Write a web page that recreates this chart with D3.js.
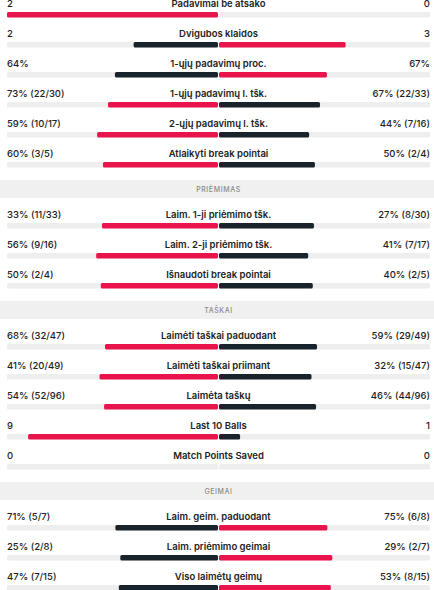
<!DOCTYPE html>
<html>
<head>
<meta charset="utf-8">
<script src="https://cdn.jsdelivr.net/npm/d3@7"></script>
<style>
  body { margin: 0; background: #fff; }
  svg { display: block; font-family: Inter, "Noto Sans", sans-serif; }
</style>
</head>
<body>
<svg id="stats"></svg>
<script>
// section headers (null = no header before the group)
var sections = [null, "PRIĖMIMAS", "TAŠKAI", "GEIMAI"]
var sectionOf = [0, 0, 0, 0, 0, 0, 1, 1, 1, 2, 2, 2, 2, 2, 3, 3, 3]

var statNames = ["Padavimai be atsako", "Dvigubos klaidos", "1-ųjų padavimų proc.", "1-ųjų padavimų l. tšk.",
    "2-ųjų padavimų l. tšk.", "Atlaikyti break pointai", "Laim. 1-ji priėmimo tšk.", "Laim. 2-ji priėmimo tšk.",
    "Išnaudoti break pointai", "Laimėti taškai paduodant", "Laimėti taškai priimant", "Laimėta taškų",
    "Last 10 Balls", "Match Points Saved", "Laim. geim. paduodant", "Laim. priėmimo geimai", "Viso laimėtų geimų"]
var homeValues = [2, 2, 64, 73, 59, 60, 33, 56, 50, 68, 41, 54, 9, 0, 71, 25, 47]
var awayValues = [0, 3, 67, 67, 44, 50, 27, 41, 40, 59, 32, 46, 1, 0, 75, 29, 53]
var homeLabels = ["2", "2", "64%", "73% (22/30)", "59% (10/17)", "60% (3/5)", "33% (11/33)", "56% (9/16)",
    "50% (2/4)", "68% (32/47)", "41% (20/49)", "54% (52/96)", "9", "0", "71% (5/7)", "25% (2/8)", "47% (7/15)"]
var awayLabels = ["0", "3", "67%", "67% (22/33)", "44% (7/16)", "50% (2/4)", "27% (8/30)", "41% (7/17)",
    "40% (2/5)", "59% (29/49)", "32% (15/47)", "46% (44/96)", "1", "0", "75% (6/8)", "29% (2/7)", "53% (8/15)"]

var dimensions = {
    width: 434,
    height: 590,
    left: 7,
    right: 430,
    gap: 1,
    rowH: 30,
    headH: 31,
    barH: 5.5
}
var red = "#e8144b", dark = "#18232b", track = "#eeeeee"

var svg = d3.select("#stats")
    .attr("width", dimensions.width)
    .attr("height", dimensions.height)

var cx = (dimensions.left + dimensions.right) / 2
var half = (dimensions.right - dimensions.left - dimensions.gap) / 2

// share of the pair -> length of bar on one side
var xScale = d3.scaleLinear().domain([0, 1]).range([0, half])

// build layout: stat rows interleaved with section headers
var items = []
var y = 6.5
statNames.forEach(function (name, i) {
    if (i > 0 && sectionOf[i] != sectionOf[i - 1]) {
        items.push({ type: "head", text: sections[sectionOf[i]], y: y })
        y += dimensions.headH
    }
    var a = homeValues[i], b = awayValues[i]
    var total = a + b
    items.push({
        type: "stat", name: name, a: a, b: b,
        sa: total ? a / total : 0, sb: total ? b / total : 0,
        la: homeLabels[i], lb: awayLabels[i], y: y
    })
    y += dimensions.rowH
})

var heads = svg.selectAll("g.head")
    .data(items.filter(d => d.type == "head"))
    .enter().append("g")
    .attr("class", "head")

heads.append("rect")
    .attr("x", 0)
    .attr("y", d => d.y - 6.5)
    .attr("width", dimensions.width)
    .attr("height", 18)
    .attr("fill", "#f0f0f0")

heads.append("text")
    .attr("x", cx)
    .attr("y", d => d.y + 5.5)
    .attr("text-anchor", "middle")
    .style("font-size", "7px")
    .style("letter-spacing", "0.6px")
    .style("font-weight", 500)
    .attr("fill", "#8a8a8a")
    .text(d => d.text)

var rows = svg.selectAll("g.stat")
    .data(items.filter(d => d.type == "stat"))
    .enter().append("g")
    .attr("class", "stat")

rows.append("text")
    .attr("x", dimensions.left)
    .attr("y", d => d.y)
    .style("font-size", "9.5px")
    .style("font-weight", 500)
    .attr("fill", "#222")
    .text(d => d.la)

rows.append("text")
    .attr("x", dimensions.right)
    .attr("y", d => d.y)
    .attr("text-anchor", "end")
    .style("font-size", "9.5px")
    .style("font-weight", 500)
    .attr("fill", "#222")
    .text(d => d.lb)

rows.append("text")
    .attr("x", cx)
    .attr("y", d => d.y)
    .attr("text-anchor", "middle")
    .style("font-size", "9.5px")
    .style("font-weight", 600)
    .attr("fill", "#222")
    .text(d => d.name)

// tracks
rows.append("rect")
    .attr("x", dimensions.left)
    .attr("y", d => d.y + 5.5)
    .attr("width", half)
    .attr("height", dimensions.barH)
    .attr("rx", 1.5)
    .attr("fill", track)
rows.append("rect")
    .attr("x", cx + dimensions.gap / 2)
    .attr("y", d => d.y + 5.5)
    .attr("width", half)
    .attr("height", dimensions.barH)
    .attr("rx", 1.5)
    .attr("fill", track)

// value bars, the larger side is red
rows.append("rect")
    .attr("x", d => cx - dimensions.gap / 2 - xScale(d.sa))
    .attr("y", d => d.y + 5.5)
    .attr("width", d => xScale(d.sa))
    .attr("height", dimensions.barH)
    .attr("rx", 1.5)
    .attr("fill", d => d.a > d.b ? red : dark)
rows.append("rect")
    .attr("x", cx + dimensions.gap / 2)
    .attr("y", d => d.y + 5.5)
    .attr("width", d => xScale(d.sb))
    .attr("height", dimensions.barH)
    .attr("rx", 1.5)
    .attr("fill", d => d.b > d.a ? red : dark)
</script>
</body>
</html>
